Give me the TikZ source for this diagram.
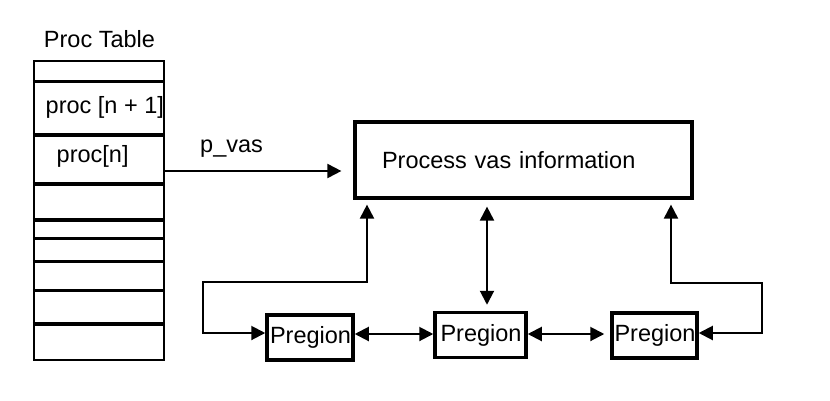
\documentclass[tikz,border=0pt]{standalone}
\usepackage{fontspec}
\setmainfont{Liberation Sans}
\usetikzlibrary{arrows.meta}
\begin{document}
\begin{tikzpicture}[x=1pt,y=-1pt,
  lbl/.style={font=\fontsize{23.5}{27}\selectfont, inner sep=0pt},
  rowline/.style={line width=3.2pt},
  vasbox/.style={draw, line width=3.2pt, inner sep=0pt, align=left, font=\fontsize{23.5}{27}\selectfont},
  pregion/.style={draw, line width=3.5pt, minimum height=45pt, text width=80pt, align=left, inner sep=0pt, font=\fontsize{23.5}{27}\selectfont},
  arr/.style={line width=2pt, -{Triangle[length=14pt,width=14pt]}},
  darr/.style={line width=2pt, {Triangle[length=14pt,width=14pt]}-{Triangle[length=14pt,width=14pt]}},
]
\useasboundingbox (0,0) rectangle (830,400);

% Proc table
\node[lbl] (title) at (99.5,39) {Proc Table};
\node[draw, line width=2.5pt, minimum width=130pt, minimum height=299pt, inner sep=0pt] (table) at (99,210.5) {};
\foreach \yy in {81.7,135,184,220,238.3,261.7,290.7,324}
  \draw[rowline] (table.west |- 0,\yy) -- (table.east |- 0,\yy);
\node[lbl, anchor=west] (pn1) at (45.5,107) {proc [n + 1]};
\node[lbl, anchor=west] (pn) at (56.5,156) {proc[n]};

% Process vas information
\node[vasbox, minimum width=337pt, minimum height=76pt, text width=283pt] (vas) at (523.5,160) {Process vas information};

% Pregions
\node[pregion, minimum width=86pt] (p1) at (310,337.5) {Pregion};
\node[pregion, minimum width=91pt] (p2) at (480.5,335) {Pregion};
\node[pregion, minimum width=85pt] (p3) at (654.5,335.5) {Pregion};

% p_vas
\node[lbl, anchor=west] (pvas) at (200,149) {p\_vas};
\draw[arr, shorten >=12pt] ([yshift=39.5pt]table.east) -- ([yshift=39.5pt]table.east -| vas.west);

% left loop
\coordinate (lu) at (367,282);
\coordinate (ll) at (203,282);
\draw[darr, shorten <=5pt] (vas.south -| lu) -- (lu) -- (ll) -- (ll |- 0,333) -- ([yshift=4.5pt]p1.west);

% right loop
\coordinate (ru) at (671,283);
\coordinate (rr) at (762,283);
\draw[darr, shorten <=5pt] (vas.south -| ru) -- (ru) -- (rr) -- (rr |- 0,333) -- ([yshift=2.5pt]p3.east);

% middle
\draw[darr, shorten <=7pt, shorten >=6pt] ([xshift=6.5pt]p2.north |- vas.south) -- ([xshift=6.5pt]p2.north);

% between pregions
\draw[darr] ([yshift=3.5pt]p1.east) -- ([yshift=1pt]p2.west);
\draw[darr, shorten >=6pt] ([yshift=1pt]p2.east) -- ([yshift=1.5pt]p3.west);
\end{tikzpicture}
\end{document}
